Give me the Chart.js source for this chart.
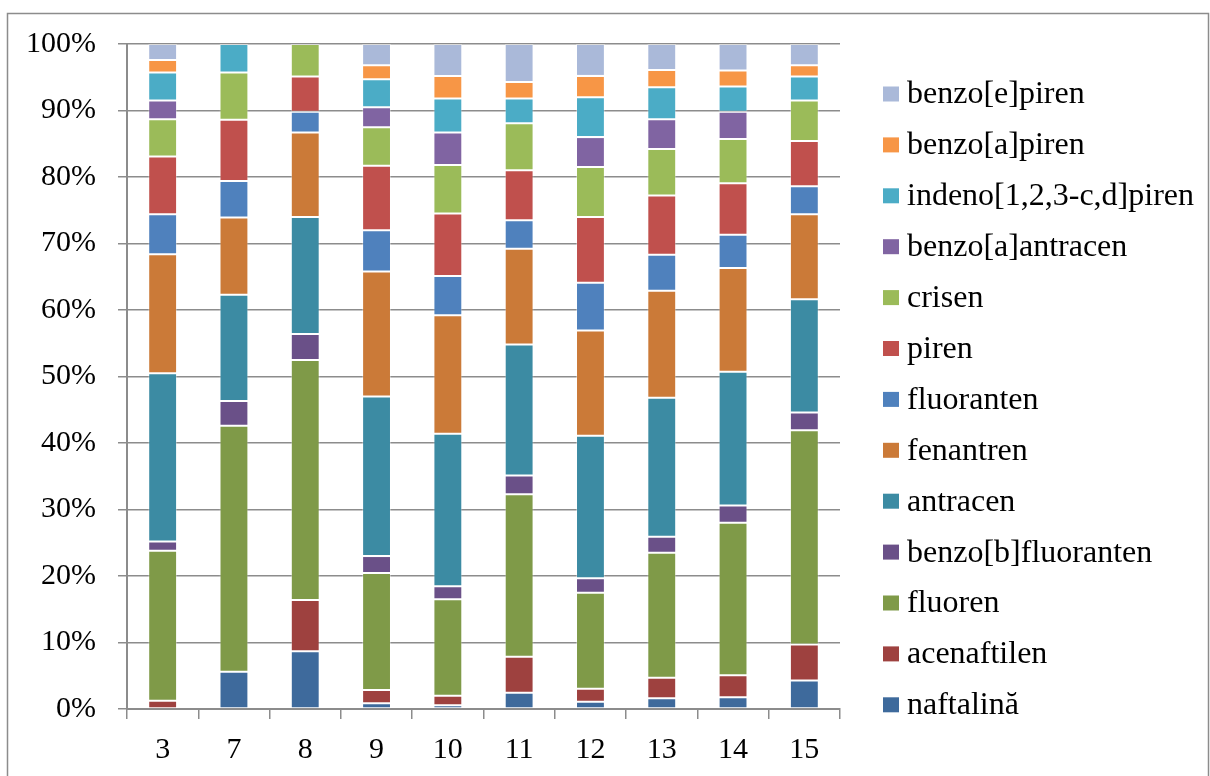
<!DOCTYPE html>
<html>
<head>
<meta charset="utf-8">
<title>HAP</title>
<script src="https://cdn.jsdelivr.net/npm/chart.js@4/dist/chart.umd.min.js"></script>
<style>
  html, body { margin: 0; padding: 0; background: #ffffff; }
  #wrap { width: 1210px; height: 776px; }
</style>
</head>
<body>
<div id="wrap"><canvas id="c" width="1210" height="776"></canvas></div>
<script>
// Sample points (x axis)
const categories = ['3', '7', '8', '9', '10', '11', '12', '13', '14', '15'];

// Share of each compound per sample, in %
const naftalina       = [0, 5.6, 8.7, 0.86, 0.56, 2.45, 1.1, 1.6, 1.76, 4.3];
const acenaftilen     = [1.25, 0, 7.7, 2.0, 1.44, 5.41, 1.95, 3.1, 3.31, 5.4];
const fluoren         = [22.55, 37.0, 36.1, 17.59, 14.5, 24.44, 14.45, 18.8, 22.93, 32.2];
const benzoBFluoranten= [1.4, 3.7, 3.9, 2.55, 1.95, 2.8, 2.15, 2.4, 2.6, 2.7];
const antracen        = [25.3, 16.0, 17.6, 24.0, 22.95, 19.7, 21.45, 20.9, 20.1, 17.0];
const fenantren       = [17.9, 11.6, 12.7, 18.8, 17.8, 14.4, 15.8, 16.1, 15.6, 12.8];
const fluoranten      = [6.0, 5.5, 3.1, 6.2, 5.9, 4.3, 7.2, 5.4, 5.0, 4.2];
const piren           = [8.7, 9.2, 5.3, 9.7, 9.4, 7.5, 9.9, 8.9, 7.75, 6.8];
const crisen          = [5.6, 7.1, 4.9, 5.8, 7.3, 7.1, 7.5, 7.0, 6.65, 6.1];
const benzoAAntracen  = [2.8, 0, 0, 3.0, 4.9, 0, 4.5, 4.5, 4.1, 0];
const indenoPiren     = [4.2, 4.3, 0, 4.2, 5.1, 3.7, 6.0, 4.8, 3.8, 3.6];
const benzoAPiren     = [1.9, 0, 0, 2.1, 3.4, 2.5, 3.2, 2.6, 2.4, 1.7];
const benzoEPiren     = [2.4, 0, 0, 3.2, 4.8, 5.7, 4.8, 3.9, 4.0, 3.2];

// Y axis tick values
const yTicks = [0, 10, 20, 30, 40, 50, 60, 70, 80, 90, 100];

// Series, bottom of the stack first
const series = [
  { label: 'naftalină',            data: naftalina,        color: '#3E6A9C' },
  { label: 'acenaftilen',          data: acenaftilen,      color: '#9E413F' },
  { label: 'fluoren',              data: fluoren,          color: '#7F9A48' },
  { label: 'benzo[b]fluoranten',   data: benzoBFluoranten, color: '#6A5088' },
  { label: 'antracen',             data: antracen,         color: '#3C8BA3' },
  { label: 'fenantren',            data: fenantren,        color: '#CB7A38' },
  { label: 'fluoranten',           data: fluoranten,       color: '#4F81BD' },
  { label: 'piren',                data: piren,            color: '#C0504D' },
  { label: 'crisen',               data: crisen,           color: '#9BBB59' },
  { label: 'benzo[a]antracen',     data: benzoAAntracen,   color: '#8064A2' },
  { label: 'indeno[1,2,3-c,d]piren', data: indenoPiren,    color: '#4BACC6' },
  { label: 'benzo[a]piren',        data: benzoAPiren,      color: '#F79646' },
  { label: 'benzo[e]piren',        data: benzoEPiren,      color: '#AAB9D9' }
];

const GRID = '#8c8c8c';
const FONT = '"Liberation Serif", "Times New Roman", serif';

// Outer frame around the whole chart
const framePlugin = {
  id: 'frame',
  beforeDraw(chart) {
    const ctx = chart.ctx;
    ctx.save();
    ctx.fillStyle = '#ffffff';
    ctx.fillRect(0, 0, chart.width, chart.height);
    ctx.strokeStyle = GRID;
    ctx.lineWidth = 1.5;
    ctx.strokeRect(7.5, 13.5, chart.width - 9, chart.height + 10);
    ctx.restore();
  }
};

// Legend column on the right, topmost series first
const legendPlugin = {
  id: 'sideLegend',
  afterDraw(chart) {
    const ctx = chart.ctx;
    const sets = chart.data.datasets;
    const x0 = chart.chartArea.right + 43;
    const top = 94, step = 50.9;
    ctx.save();
    ctx.font = '32px ' + FONT;
    ctx.textBaseline = 'middle';
    ctx.textAlign = 'left';
    for (let i = 0; i < sets.length; i++) {
      const ds = sets[sets.length - 1 - i];
      const cy = top + i * step;
      ctx.fillStyle = ds.backgroundColor;
      ctx.fillRect(x0, cy - 7.5, 16, 15);
      ctx.fillStyle = '#000000';
      ctx.fillText(ds.label, x0 + 24, cy + 1);
    }
    ctx.restore();
  }
};

new Chart(document.getElementById('c'), {
  type: 'bar',
  data: {
    labels: categories,
    datasets: series.map(s => ({
      label: s.label,
      data: s.data,
      backgroundColor: s.color,
      borderColor: 'rgba(255,255,255,0.35)',
      borderWidth: 1,
      borderSkipped: false,
      barPercentage: 0.405,
      categoryPercentage: 1.0
    }))
  },
  options: {
    responsive: false,
    animation: false,
    devicePixelRatio: 1,
    layout: { padding: { top: 44, right: 370, left: 0, bottom: 0 } },
    plugins: {
      legend: { display: false },
      tooltip: { enabled: false }
    },
    scales: {
      x: {
        stacked: true,
        offset: true,
        grid: {
          display: true,
          offset: true,
          drawOnChartArea: false,
          drawTicks: true,
          tickLength: 10,
          color: GRID,
          lineWidth: 1.5
        },
        border: { display: true, color: GRID, width: 2 },
        ticks: {
          color: '#000000',
          font: { family: FONT, size: 30 },
          padding: 13,
          maxRotation: 0
        },
        afterFit(scale) { scale.height = 67; }
      },
      y: {
        stacked: true,
        min: 0,
        max: 100,
        afterBuildTicks(scale) { scale.ticks = yTicks.map(v => ({ value: v })); },
        grid: {
          color: GRID,
          lineWidth: 1.5,
          drawTicks: true,
          tickLength: 9
        },
        border: { display: true, color: GRID, width: 2 },
        ticks: {
          color: '#000000',
          font: { family: FONT, size: 30 },
          padding: 22,
          callback: v => v + '%'
        },
        afterFit(scale) { scale.width = 127; }
      }
    }
  },
  plugins: [framePlugin, legendPlugin]
});
</script>
</body>
</html>
